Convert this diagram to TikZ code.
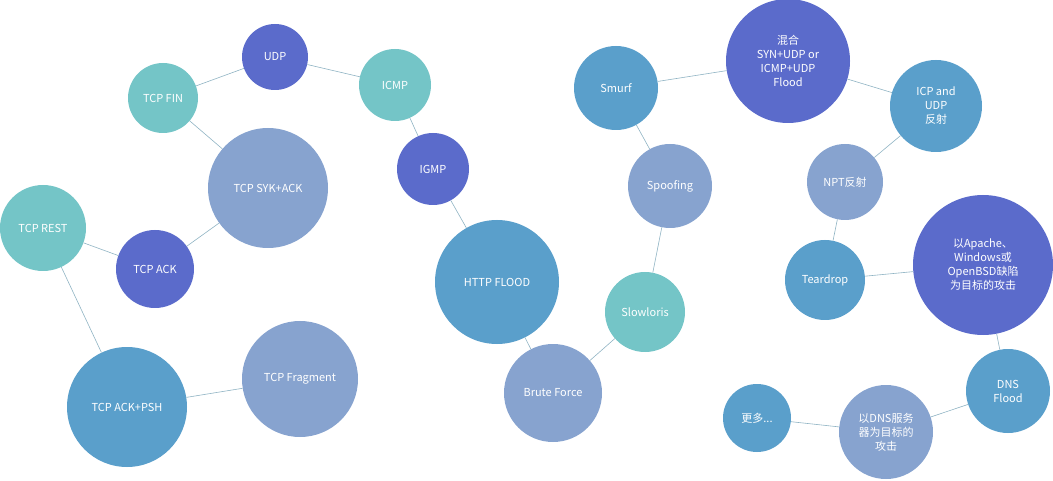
\documentclass[tikz,border=0pt]{standalone}
\usepackage{fontspec}
\setmainfont{Noto Sans CJK SC}
\usepackage{tikz}
\definecolor{darkblue}{HTML}{5B6BCB}
\definecolor{teal}{HTML}{74C5C7}
\definecolor{lavender}{HTML}{87A3CF}
\definecolor{midblue}{HTML}{5A9FCB}
\definecolor{linkgray}{HTML}{8FB3C3}
\tikzstyle{bubble} = [circle, inner sep=0pt, text=white, align=center, font=\fontsize{11}{14}\selectfont]
\tikzstyle{link} = [draw=linkgray, line width=0.6pt]

\begin{document}
\begin{tikzpicture}[x=1pt, y=-1pt]
          \useasboundingbox (0,0) rectangle (1053,481);

          \node [bubble, fill=darkblue, minimum size=66pt] (UDP) at (275,57) {UDP};
          \node [bubble, fill=teal, minimum size=70pt] (FIN) at (163,98) {TCP FIN};
          \node [bubble, fill=teal, minimum size=72pt] (ICMP) at (395,85) {ICMP};
          \node [bubble, fill=lavender, minimum size=120pt] (SYK) at (268,188) {TCP SYK+ACK};
          \node [bubble, fill=darkblue, minimum size=72pt] (IGMP) at (433,169) {IGMP};
          \node [bubble, fill=teal, minimum size=86pt] (REST) at (43,228) {TCP REST};
          \node [bubble, fill=darkblue, minimum size=78pt] (ACK) at (155,269) {TCP ACK};
          \node [bubble, fill=midblue, minimum size=124pt] (HTTP) at (497,282) {HTTP FLOOD};
          \node [bubble, fill=midblue, minimum size=120pt] (PSH) at (127,407) {TCP ACK+PSH};
          \node [bubble, fill=lavender, minimum size=116pt] (FRAG) at (300,379) {TCP Fragment};
          \node [bubble, fill=lavender, minimum size=98pt] (BRUTE) at (553,393) {Brute Force};
          \node [bubble, fill=teal, minimum size=80pt] (SLOW) at (645,312) {Slowloris};
          \node [bubble, fill=lavender, minimum size=84pt] (SPOOF) at (670,186) {Spoofing};
          \node [bubble, fill=midblue, minimum size=84pt] (SMURF) at (616,88) {Smurf};
          \node [bubble, fill=darkblue, minimum size=124pt] (MIX) at (788,61) {混合\\SYN+UDP or\\ICMP+UDP\\Flood};
          \node [bubble, fill=midblue, minimum size=92pt] (ICP) at (936,106) {ICP and\\UDP\\反射};
          \node [bubble, fill=lavender, minimum size=76pt] (NPT) at (845,182) {NPT反射};
          \node [bubble, fill=midblue, minimum size=80pt] (TEAR) at (825,280) {Teardrop};
          \node [bubble, fill=darkblue, minimum size=140pt] (APACHE) at (983,265) {以Apache、\\Windows或\\OpenBSD缺陷\\为目标的攻击};
          \node [bubble, fill=midblue, minimum size=84pt] (DNS) at (1008,391) {DNS\\Flood};
          \node [bubble, fill=lavender, minimum size=94pt] (DNSTGT) at (886,432) {以DNS服务\\器为目标的\\攻击};
          \node [bubble, fill=midblue, minimum size=68pt] (MORE) at (757,418) {更多...};

          % connectors
          \draw [link] (FIN) -- (UDP);
          \draw [link] (UDP) -- (ICMP);
          \draw [link] (ICMP) -- (IGMP);
          \draw [link] (FIN) -- (SYK);
          \draw [link] (SYK) -- (ACK);
          \draw [link] (REST) -- (ACK);
          \draw [link] (REST) -- (PSH);
          \draw [link] (PSH) -- (FRAG);
          \draw [link] (IGMP) -- (HTTP);
          \draw [link] (HTTP) -- (BRUTE);
          \draw [link] (BRUTE) -- (SLOW);
          \draw [link] (SLOW) -- (SPOOF);
          \draw [link] (SPOOF) -- (SMURF);
          \draw [link] (SMURF) -- (MIX);
          \draw [link] (MIX) -- (ICP);
          \draw [link] (ICP) -- (NPT);
          \draw [link] (NPT) -- (TEAR);
          \draw [link] (TEAR) -- (APACHE);
          \draw [link] (APACHE) -- (DNS);
          \draw [link] (DNS) -- (DNSTGT);
          \draw [link] (DNSTGT) -- (MORE);
        \end{tikzpicture}
\end{document}
